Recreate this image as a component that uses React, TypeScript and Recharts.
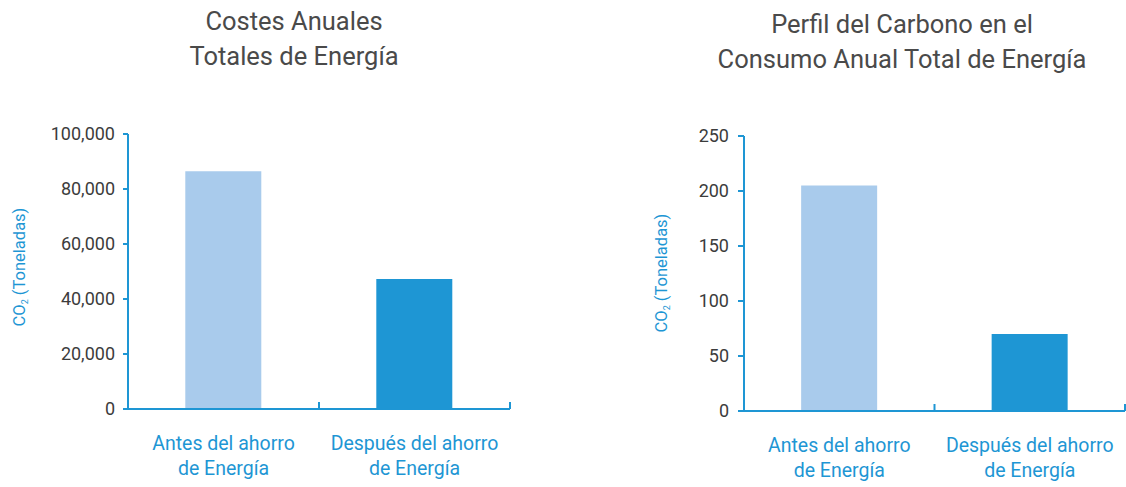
import { BarChart, Bar, XAxis, YAxis, Cell } from "recharts";

const CATEGORIES = ["Antes del ahorro\nde Energía", "Después del ahorro\nde Energía"];
const COSTES_VALUES = [86500, 47300];
const CARBONO_VALUES = [205, 70];
const COSTES_TICKS = [0, 20000, 40000, 60000, 80000, 100000];
const CARBONO_TICKS = [0, 50, 100, 150, 200, 250];
const BAR_COLORS = ["#a9cbec", "#1e96d4"];

const BLUE = "#1e96d4";
const FONT = "Roboto, sans-serif";

const costesData = CATEGORIES.map((name, i) => ({ name, value: COSTES_VALUES[i] }));
const carbonoData = CATEGORIES.map((name, i) => ({ name, value: CARBONO_VALUES[i] }));

const fmt = (v: number) => v.toLocaleString("en-US");

// category label in two lines, plus the small upward tick at the right edge of the band
const CategoryTick = ({ x, y, payload }: any) => {
  const lines = String(payload.value).split("\n");
  const edge = x + (payload.offset || 0);
  return (
    <g>
      <line x1={edge} x2={edge} y1={y} y2={y - 7} stroke={BLUE} strokeWidth={2} />
      <text x={x} y={y} textAnchor="middle" fill={BLUE} fontSize={19.5} fontFamily={FONT}>
        {lines.map((l, i) => (
          <tspan key={i} x={x} dy={i === 0 ? 41 : 25}>
            {l}
          </tspan>
        ))}
      </text>
    </g>
  );
};

const Title = ({ lines, center, top }: { lines: string[]; center: number; top: number }) => (
  <div
    style={{
      position: "absolute",
      left: center - 250,
      width: 500,
      top,
      textAlign: "center",
      fontFamily: FONT,
      fontSize: 25.5,
      lineHeight: "35px",
      color: "#4a4a4a",
    }}
  >
    {lines.map((l, i) => (
      <div key={i}>{l}</div>
    ))}
  </div>
);

// rotated axis title, centred on (cx, cy)
const YTitle = ({ cx, cy }: { cx: number; cy: number }) => (
  <div
    style={{
      position: "absolute",
      left: cx - 100,
      top: cy - 12,
      width: 200,
      height: 24,
      lineHeight: "24px",
      textAlign: "center",
      transform: "rotate(-90deg)",
      fontFamily: FONT,
      fontSize: 16.5,
      color: BLUE,
      whiteSpace: "nowrap",
    }}
  >
    CO<sub style={{ fontSize: 9, verticalAlign: "-3px" }}>2</sub> (Toneladas)
  </div>
);

function SmallBarChart({ data, ticks, width, top, right, bottom, yWidth, tickSize, tickMargin }: any) {
  return (
    <BarChart
      width={width}
      height={487}
      data={data}
      margin={{ top, right, bottom: 0, left: 0 }}
      barCategoryGap="30%"
    >
      <XAxis
        dataKey="name"
        height={bottom}
        stroke={BLUE}
        strokeWidth={2}
        tickLine={false}
        tickSize={0}
        tickMargin={0}
        interval={0}
        tick={CategoryTick}
      />
      <YAxis
        width={yWidth}
        domain={[ticks[0], ticks[ticks.length - 1]]}
        ticks={ticks}
        tickFormatter={fmt}
        stroke={BLUE}
        strokeWidth={2}
        tickSize={tickSize}
        tickMargin={tickMargin}
        tick={{ fill: "#3c3c3c", fontSize: 18, fontFamily: FONT }}
      />
      <Bar dataKey="value" isAnimationActive={false}>
        {data.map((_: any, i: number) => (
          <Cell key={`cell-${i}`} fill={BAR_COLORS[i]} />
        ))}
      </Bar>
    </BarChart>
  );
}

export default function App() {
  return (
    <div style={{ position: "absolute", left: 0, top: 0, width: 1126, height: 487, background: "#fff" }}>
      <Title lines={["Costes Anuales", "Totales de Energía"]} center={294} top={4} />
      <Title lines={["Perfil del Carbono en el", "Consumo Anual Total de Energía"]} center={902} top={7} />
      <div style={{ position: "absolute", left: 0, top: 0 }}>
        <SmallBarChart
          data={costesData}
          ticks={COSTES_TICKS}
          width={560}
          top={134}
          right={50}
          bottom={78}
          yWidth={128}
          tickSize={5}
          tickMargin={8}
        />
      </div>
      <div style={{ position: "absolute", left: 620, top: 0 }}>
        <SmallBarChart
          data={carbonoData}
          ticks={CARBONO_TICKS}
          width={506}
          top={136}
          right={1}
          bottom={76}
          yWidth={124}
          tickSize={6}
          tickMargin={9}
        />
      </div>
      <YTitle cx={20} cy={267} />
      <YTitle cx={662} cy={273} />
    </div>
  );
}
